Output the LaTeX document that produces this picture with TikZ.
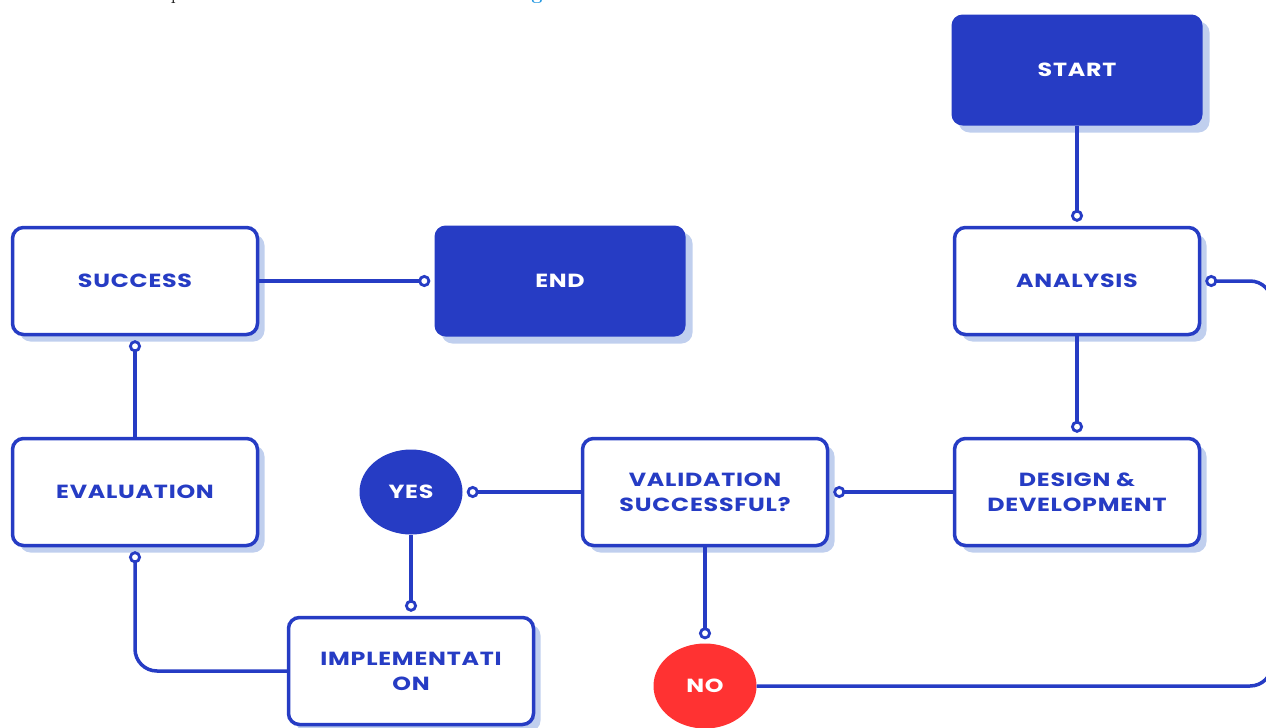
\documentclass[tikz,border=0pt]{standalone}
\usepackage{fontspec}
\setmainfont{Poppins}
\newfontfamily\boxfont[FakeStretch=1.25, LetterSpace=4]{Poppins}
\usetikzlibrary{shadows,arrows.meta,shapes.geometric}
\definecolor{mblue}{HTML}{263CC4}
\definecolor{shade}{HTML}{C0CFEE}
\definecolor{nored}{HTML}{FF3232}
\definecolor{linkblue}{HTML}{1E95E0}
\tikzset{
  box/.style={rectangle, rounded corners=11pt, draw=mblue, line width=3.5pt, fill=white,
    minimum width=245pt, minimum height=107pt, text=mblue, align=center,
    font=\boxfont\fontsize{19}{25}\selectfont\bfseries,
    drop shadow={shadow xshift=7pt, shadow yshift=-7pt, fill=shade, opacity=1}},
  filledbox/.style={rectangle, rounded corners=11pt, fill=mblue, draw=none,
    minimum width=251pt, minimum height=111pt, text=white, align=center,
    font=\boxfont\fontsize{19}{25}\selectfont\bfseries,
    drop shadow={shadow xshift=7pt, shadow yshift=-7pt, fill=shade, opacity=1}},
  decision/.style={ellipse, draw=none, minimum width=103pt, minimum height=85pt,
    text=white, font=\boxfont\fontsize{19}{25}\selectfont\bfseries, inner sep=0pt},
  link/.style={draw=mblue, line width=3.5pt,
    -{Circle[open, fill=white, length=12pt, width=12pt, line width=2.8pt]}, shorten >=4pt},
}
\begin{document}
\begin{tikzpicture}[x=1pt, y=-1pt]
\useasboundingbox (0,0) rectangle (1266,728);
% cut-off fragments of text above the picture
\begin{scope}
\clip (0,0) rectangle (1266,728);
\node[anchor=base, inner sep=0pt, font=\fontspec{Latin Modern Roman}\fontsize{20}{24}\selectfont] (frp) at (176,-0.5) {p};
\node[anchor=base, inner sep=0pt, text=linkblue, font=\fontspec{Latin Modern Roman}\bfseries\fontsize{20}{24}\selectfont] (frg) at (537,-0.5) {g};
\end{scope}
% nodes
\node[filledbox] (start) at (1077,70) {START};
\node[box] (analysis) at (1077,281) {ANALYSIS};
\node[box] (design) at (1077,492) {DESIGN \&\\DEVELOPMENT};
\node[box] (valid) at (705,492) {VALIDATION\\SUCCESSFUL?};
\node[decision, fill=mblue] (yes) at (411,492) {YES};
\node[decision, fill=nored] (no) at (705,686) {NO};
\node[box] (impl) at (411,671) {IMPLEMENTATI\\ON};
\node[box] (eval) at (135,492) {EVALUATION};
\node[box] (success) at (135,281) {SUCCESS};
\node[filledbox] (end) at (560,281) {END};
% connectors
\draw[link] (start.south) -- (analysis.north);
\draw[link] (analysis.south) -- (design.north);
\draw[link] (design.west) -- (valid.east);
\draw[link] (valid.west) -- (yes.east);
\draw[link] (yes.south) -- (impl.north);
\draw[link] (valid.south) -- (no.north);
\draw[link, rounded corners=22pt] (impl.west) -| (eval.south);
\draw[link] (eval.north) -- (success.south);
\draw[link] (success.east) -- (end.west);
\coordinate (rightedge) at (1272,486);
\draw[link, rounded corners=22pt] (no.east) -| (rightedge) |- (analysis.east);
\end{tikzpicture}
\end{document}
